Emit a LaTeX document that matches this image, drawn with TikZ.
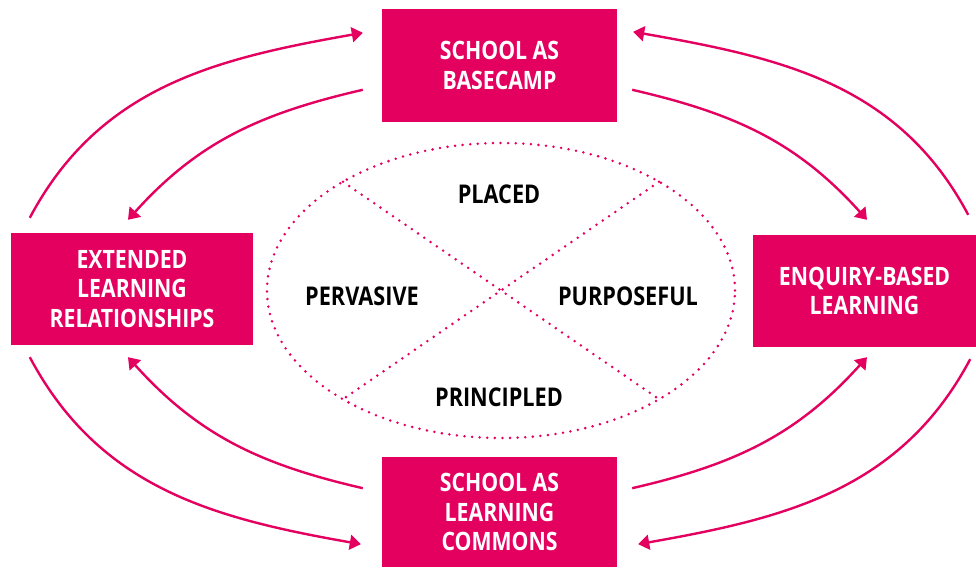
\documentclass[tikz,border=0pt]{standalone}
\usepackage{fontspec}
\setmainfont{Open Sans}[FakeStretch=0.84]
\usetikzlibrary{arrows.meta}
\definecolor{rose}{HTML}{E3005F}
\tikzset{
  box/.style={fill=rose, text=white, align=center, inner sep=0pt,
    font=\bfseries\fontsize{25.3}{29.5}\selectfont},
  facet/.style={font=\bfseries\fontsize{25.8}{29}\selectfont},
  flow/.style={draw=rose, line width=2.4pt, -{Triangle[length=11pt,width=15pt]}},
  dots/.style={draw=rose, line width=2.8pt, line cap=round, dash pattern=on 0pt off 7.6pt}
}
\begin{document}
\begin{tikzpicture}[x=1pt,y=1pt]
      \useasboundingbox (0,0) rectangle (976,567);
      \draw
        (499.5,501.5) node[box, minimum width=235pt, minimum height=113pt] (base){SCHOOL AS\\BASECAMP}
        (132,278) node[box, minimum width=242pt, minimum height=112pt] (rel){EXTENDED\\LEARNING\\RELATIONSHIPS}
        (864.5,276) node[box, minimum width=223pt, minimum height=112pt] (enq){ENQUIRY-BASED\\LEARNING}
        (499.5,55) node[box, minimum width=235pt, minimum height=110pt] (commons){SCHOOL AS\\LEARNING\\COMMONS};
      % the four P's
      \draw[dots] (501,276.5) ellipse [x radius=234, y radius=147.5];
      \draw[dots] (501,276.5) ++(132.5:234 and 147.5) coordinate (pa) -- (501,276.5) -- ++(-47.5:234 and 147.5) coordinate (pb);
      \draw[dots] (501,276.5) ++(47.5:234 and 147.5) coordinate (pc) -- (501,276.5) -- ++(-132.5:234 and 147.5) coordinate (pd);
      \draw
        (499,373) node[facet] (placed){PLACED}
        (362,271) node[facet] (pervasive){PERVASIVE}
        (628,271) node[facet] (purposeful){PURPOSEFUL}
        (499,170) node[facet] (principled){PRINCIPLED};
      % arrows between the boxes
      \begin{scope}[flow]
        \draw ([shift={(19,15)}]rel.north west) to[out=62, in=190] ([shift={(-19,-24)}]base.north west);
        \draw ([shift={(-19,-81)}]base.north west) to[out=193, in=48] ([shift={(-4,13)}]rel.north);
        \draw ([shift={(-8,20)}]enq.north east) to[out=118, in=-10] ([shift={(16,-23)}]base.north east);
        \draw ([shift={(15,-81)}]base.north east) to[out=-13, in=132] ([shift={(2.5,15)}]enq.north);
        \draw ([shift={(19,-12)}]rel.south west) to[out=-62, in=170] ([shift={(-21,23)}]commons.south west);
        \draw ([shift={(-19,79)}]commons.south west) to[out=167, in=-48] ([shift={(-4,-12)}]rel.south);
        \draw ([shift={(15,79)}]commons.south east) to[out=13, in=-132] ([shift={(2.5,-10)}]enq.south);
        \draw ([shift={(-6,-12)}]enq.south east) to[out=-118, in=10] ([shift={(21,23)}]commons.south east);
      \end{scope}
    \end{tikzpicture}
\end{document}
